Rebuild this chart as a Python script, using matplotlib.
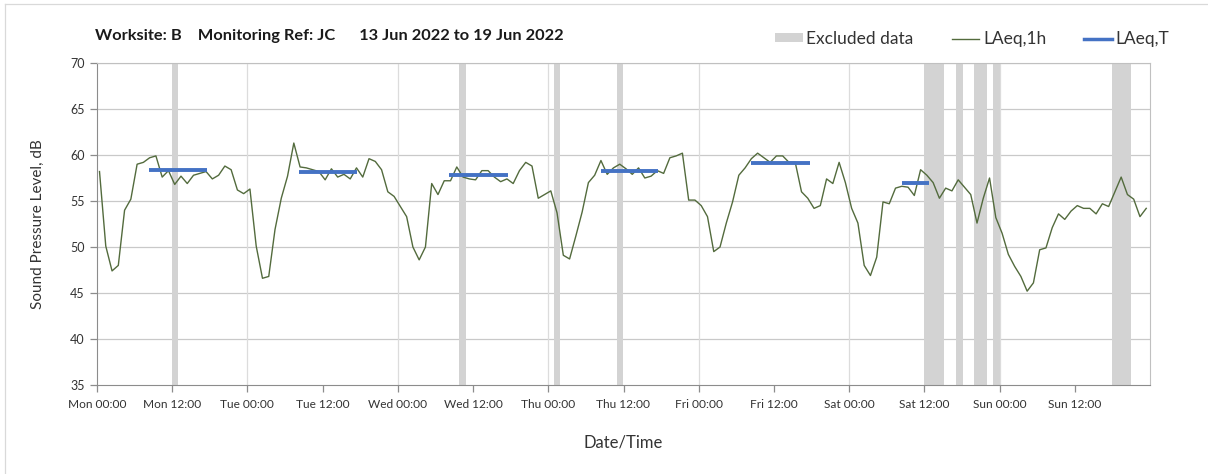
# noise monitoring chart - hourly LAeq with excluded periods and daytime LAeq,T
import matplotlib
matplotlib.use('Agg')
import matplotlib.pyplot as plt
from matplotlib.patches import Patch
from matplotlib.lines import Line2D
import numpy as np

plt.rcParams['font.family'] = ['Lato', 'DejaVu Sans']

# data
days = ['Mon', 'Tue', 'Wed', 'Thu', 'Fri', 'Sat', 'Sun']

laeq_1h = [
    58.2, 50.1, 47.4, 48.0, 54.0, 55.2, 59.0, 59.2, 59.7, 59.9, 57.6, 58.3,
    56.8, 57.7, 56.9, 57.8, 58.0, 58.2, 57.4, 57.8, 58.8, 58.4, 56.2, 55.8,
    56.3, 50.1, 46.6, 46.8, 51.9, 55.3, 57.7, 61.3, 58.7, 58.6, 58.4, 58.2,
    57.3, 58.5, 57.6, 57.9, 57.4, 58.6, 57.6, 59.6, 59.3, 58.4, 56.0, 55.5,
    54.4, 53.3, 50.0, 48.6, 50.0, 56.9, 55.7, 57.2, 57.2, 58.7, 57.6, 57.4,
    57.3, 58.3, 58.3, 57.6, 57.1, 57.4, 56.9, 58.3, 59.2, 58.8, 55.3, 55.7,
    56.1, 53.7, 49.1, 48.7, 51.2, 53.8, 57.0, 57.8, 59.4, 57.9, 58.6, 59.0,
    58.5, 57.9, 58.6, 57.5, 57.7, 58.3, 58.0, 59.7, 59.9, 60.2, 55.1, 55.1,
    54.5, 53.3, 49.5, 50.0, 52.6, 54.9, 57.8, 58.6, 59.6, 60.2, 59.7, 59.2,
    59.9, 59.9, 59.2, 59.2, 56.0, 55.3, 54.2, 54.5, 57.4, 56.9, 59.2, 57.0,
    54.2, 52.6, 48.0, 46.9, 48.9, 54.9, 54.7, 56.4, 56.6, 56.5, 55.6, 58.4,
    57.8, 57.0, 55.3, 56.4, 56.1, 57.3, 56.5, 55.7, 52.6, 55.3, 57.5, 53.2,
    51.5, 49.2, 47.9, 46.8, 45.2, 46.1, 49.7, 49.9, 52.1, 53.6, 53.0, 53.9,
    54.5, 54.2, 54.2, 53.6, 54.7, 54.4, 56.0, 57.6, 55.7, 55.2, 53.3, 54.2,
]

# excluded periods, hours from Mon 00:00
excl_start = [12.0, 57.8, 72.9, 83.0, 132.0, 137.0, 140.0, 143.0, 162.0]
excl_end = [13.0, 58.8, 73.9, 84.0, 135.1, 138.1, 142.0, 144.0, 165.0]

# daytime LAeq,T
laeqT_start = [8.3, 32.3, 56.2, 80.4, 104.4, 128.5]
laeqT_end = [17.5, 41.5, 65.6, 89.5, 113.7, 132.7]
laeqT_value = [58.4, 58.2, 57.8, 58.3, 59.1, 57.0]

hours = np.arange(len(laeq_1h)) + 0.4

# figure
fig = plt.figure(figsize=(12.08, 4.74), dpi=100)
W, H = 1208, 474
ax = fig.add_axes([97 / W, 1 - 385 / H, (1150 - 97) / W, (385 - 63) / H])

excl_col = '#d3d3d3'
line_col = '#536b3d'
blue_col = '#4472c4'

for s, e in zip(excl_start, excl_end):
    ax.axvspan(s, e, color=excl_col, lw=0, zorder=1)

ax.plot(hours, laeq_1h, '-', color=line_col, lw=1.0, zorder=3)
ax.hlines(laeqT_value, laeqT_start, laeqT_end, color=blue_col, lw=2.8, zorder=4)

# axes
ax.set_xlim(0, 168)
ax.set_ylim(35, 70)
ax.set_yticks(np.arange(35, 71, 5))
xt = np.arange(0, 168, 12)
ax.set_xticks(xt)
ax.set_xticklabels(['%s %02d:00' % (days[int(t // 24)], t % 24) for t in xt])

# grid: horizontal every 5 dB, vertical at midnight only
for y in range(40, 71, 5):
    ax.axhline(y, color='#c9c9c9', lw=0.9, zorder=0)
for d in range(1, 7):
    ax.axvline(d * 24, color='#dcdcdc', lw=0.9, zorder=0)

for sp in ['left', 'bottom']:
    ax.spines[sp].set_color('#8c8c8c')
for sp in ['top', 'right']:
    ax.spines[sp].set_color('#c0c0c0')

ax.tick_params(axis='both', colors='#8c8c8c', length=5, width=0.9,
               labelcolor='#333333', labelsize=9)
ax.tick_params(axis='x', pad=5, labelsize=8.6)
ax.tick_params(axis='y', pad=4)

# labels
ax.set_ylabel('Sound Pressure Level, dB', fontsize=11, color='#333333', labelpad=18)
ax.set_xlabel('Date/Time', fontsize=12, color='#333333', labelpad=18)

fig.text(95 / W, 1 - 36 / H, 'Worksite: B    Monitoring Ref: JC      13 Jun 2022 to 19 Jun 2022',
         fontsize=11.8, fontweight='bold', color='#1a1a1a', va='center', ha='left')

handles = [Patch(facecolor=excl_col, edgecolor='none'),
           Line2D([], [], color=line_col, lw=1.0),
           Line2D([], [], color=blue_col, lw=2.5)]
fig.legend(handles, ['Excluded data', 'LAeq,1h', 'LAeq,T'], ncol=3, frameon=False,
           loc='center right', bbox_to_anchor=(1185 / W, 1 - 39 / H),
           fontsize=12.5, handlelength=1.6, handleheight=0.45, handletextpad=0.2,
           columnspacing=2.2, labelcolor='#333333')

# outer border of the chart area
fig.add_artist(Line2D([5 / W, 5 / W], [0, 1 - 4 / H], color='#d9d9d9', lw=0.9))
fig.add_artist(Line2D([5 / W, 1], [1 - 4 / H, 1 - 4 / H], color='#d9d9d9', lw=0.9))

fig.savefig('out.png', dpi=100)
